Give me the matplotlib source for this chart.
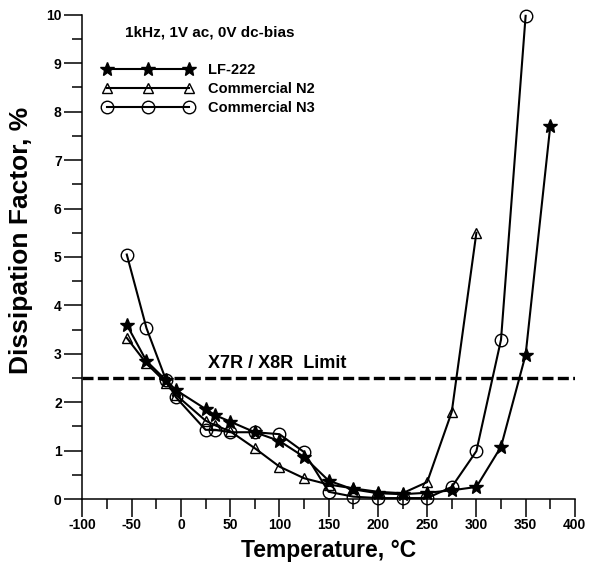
import matplotlib
matplotlib.use("Agg")
import matplotlib.pyplot as plt
from matplotlib.ticker import MultipleLocator

plt.rcParams['font.family'] = ['Liberation Sans', 'DejaVu Sans']
plt.rcParams['font.weight'] = 'bold'
plt.rcParams['axes.unicode_minus'] = False

# temperatures, degC
temp_lf222 = [-55, -35, -15, -5, 25, 35, 50, 75, 100, 125, 150, 175, 200, 225, 250, 275, 300, 325, 350, 375]
df_lf222 = [3.6, 2.85, 2.45, 2.25, 1.86, 1.73, 1.6, 1.38, 1.2, 0.87, 0.38, 0.2, 0.12, 0.1, 0.13, 0.18, 0.25, 1.08, 2.98, 7.7]

temp_n2 = [-55, -35, -15, -5, 25, 35, 50, 75, 100, 125, 150, 175, 200, 225, 250, 275, 300]
df_n2 = [3.33, 2.8, 2.4, 2.15, 1.62, 1.52, 1.4, 1.05, 0.67, 0.43, 0.3, 0.22, 0.15, 0.12, 0.35, 1.8, 5.5]

temp_n3 = [-55, -35, -15, -5, 25, 35, 50, 75, 100, 125, 150, 175, 200, 225, 250, 275, 300, 325, 350]
df_n3 = [5.05, 3.53, 2.45, 2.1, 1.43, 1.43, 1.38, 1.38, 1.34, 0.97, 0.15, 0.05, 0.02, 0.02, 0.02, 0.25, 0.99, 3.29, 9.98]

limit = 2.5

fig = plt.figure(figsize=(5.89, 5.71), dpi=100)
ax = fig.add_axes([0.140, 0.126, 0.836, 0.848])

ax.plot(temp_lf222, df_lf222, '-*', color='black', lw=1.5, ms=10, label='LF-222', clip_on=False)
ax.plot(temp_n2, df_n2, '-^', color='black', lw=1.5, ms=6.5, mfc='none', mew=1.0,
        label='Commercial N2', clip_on=False)
ax.plot(temp_n3, df_n3, '-o', color='black', lw=1.5, ms=9, mfc='none', mew=1.0,
        label='Commercial N3', clip_on=False)

ax.axhline(limit, color='black', lw=2.4, ls=(0, (3.3, 1.3)))
ax.text(27, 2.7, 'X7R / X8R  Limit', fontsize=13, fontweight='bold')

ax.text(-57, 9.55, '1kHz, 1V ac, 0V dc-bias', fontsize=11, fontweight='bold')

ax.set_xlim(-100, 400)
ax.set_ylim(0, 10)
ax.xaxis.set_major_locator(MultipleLocator(50))
ax.xaxis.set_minor_locator(MultipleLocator(25))
ax.yaxis.set_major_locator(MultipleLocator(1))
ax.yaxis.set_minor_locator(MultipleLocator(0.5))
ax.tick_params(which='major', direction='out', length=13, width=1.1, labelsize=10)
ax.tick_params(which='minor', direction='out', length=7, width=1.1)
ax.tick_params(axis='x', which='major', pad=1)
ax.tick_params(axis='y', which='major', pad=2)
for s in ['top', 'right']:
    ax.spines[s].set_visible(False)
for s in ['left', 'bottom']:
    ax.spines[s].set_linewidth(1.1)

ax.set_xlabel('Temperature, °C', fontsize=16.5, fontweight='bold', labelpad=5)
ax.set_ylabel('Dissipation Factor, %', fontsize=19, fontweight='bold')
ax.yaxis.set_label_coords(-0.10, 0.535)

ax.legend(loc='upper left', bbox_to_anchor=(0.03, 0.912), frameon=False, numpoints=3,
          handlelength=6.2, handletextpad=1.0, borderaxespad=0,
          prop={'weight': 'bold', 'size': 10.5}, labelspacing=0.35)

fig.savefig('out.png', dpi=100, facecolor='white')
